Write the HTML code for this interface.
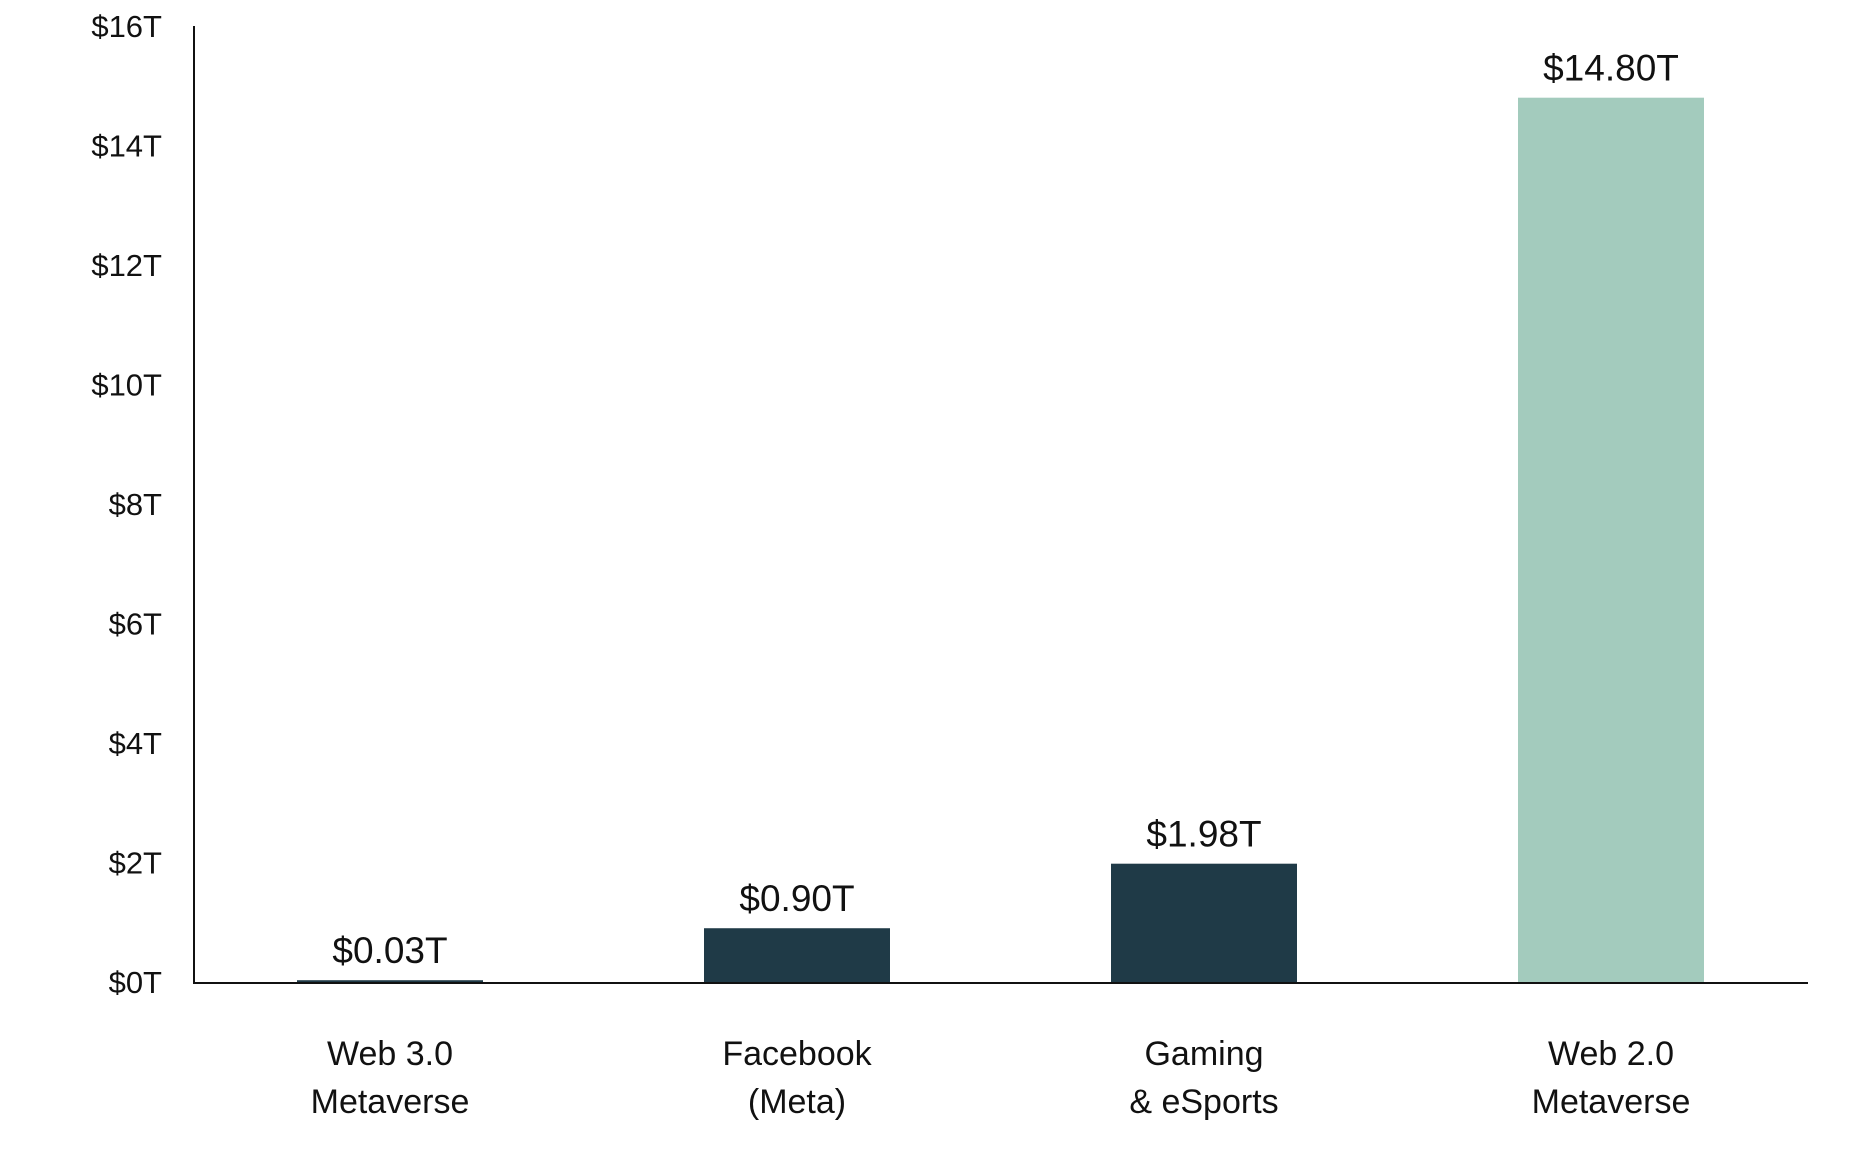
<!DOCTYPE html>
<html><head><meta charset="utf-8"><style>
html,body{margin:0;padding:0;background:#fff;}
svg{display:block;font-family:"Liberation Sans",sans-serif;}
</style></head><body>
<svg id="chart" width="1856" height="1162" viewBox="0 0 1856 1162" xmlns="http://www.w3.org/2000/svg">
<g id="yticks"></g>
<g id="bars"></g>
<g id="vlabels"></g>
<g id="xlabels"></g>
<line x1="194" y1="26" x2="194" y2="983" stroke="#111" stroke-width="2"/>
<line x1="193" y1="983" x2="1808" y2="983" stroke="#111" stroke-width="2"/>
</svg>
<script>
const categories = [["Web 3.0","Metaverse"],["Facebook","(Meta)"],["Gaming","& eSports"],["Web 2.0","Metaverse"]];
const values = [0.03, 0.90, 1.98, 14.80];
const valueLabels = ["$0.03T","$0.90T","$1.98T","$14.80T"];
const barColors = ["#1f3a47","#1f3a47","#1f3a47","#a3cbbd"];
const tickValues = [0,2,4,6,8,10,12,14,16];
const tickLabels = ["$0T","$2T","$4T","$6T","$8T","$10T","$12T","$14T","$16T"];

const NS="http://www.w3.org/2000/svg";
const y0=982, yTop=26, yMax=16;
const yScale=v=>y0-(v/yMax)*(y0-yTop);
const firstCenter=390, step=407, barW=186;
const xCenter=i=>firstCenter+i*step;

const yt=document.getElementById('yticks');
tickValues.forEach((v,i)=>{
  const t=document.createElementNS(NS,'text');
  
  
  t.setAttribute('x',162);
  t.setAttribute('y',yScale(v)+11);
  t.setAttribute('text-anchor','end');
  t.setAttribute('font-size','31');
  t.setAttribute('fill','#111');
  t.textContent=tickLabels[i];
  yt.appendChild(t);
});
const bg=document.getElementById('bars'), vl=document.getElementById('vlabels'), xl=document.getElementById('xlabels');
values.forEach((v,i)=>{
  const r=document.createElementNS(NS,'rect');
  
  
  const top=yScale(v);
  r.setAttribute('x',xCenter(i)-barW/2);
  r.setAttribute('y',top);
  r.setAttribute('width',barW);
  r.setAttribute('height',Math.max(y0-top,1.5));
  r.setAttribute('fill',barColors[i]);
  bg.appendChild(r);
  const t=document.createElementNS(NS,'text');
  
  
  t.setAttribute('x',xCenter(i));
  t.setAttribute('y',top-17);
  t.setAttribute('text-anchor','middle');
  t.setAttribute('font-size','37');
  t.setAttribute('fill','#111');
  t.textContent=valueLabels[i];
  vl.appendChild(t);
  categories[i].forEach((line,j)=>{
    const c=document.createElementNS(NS,'text');
    
    
    c.setAttribute('x',xCenter(i));
    c.setAttribute('y',1065+j*48);
    c.setAttribute('text-anchor','middle');
    c.setAttribute('font-size','34');
    c.setAttribute('fill','#111');
    c.textContent=line;
    xl.appendChild(c);
  });
});
</script>
</body></html>
